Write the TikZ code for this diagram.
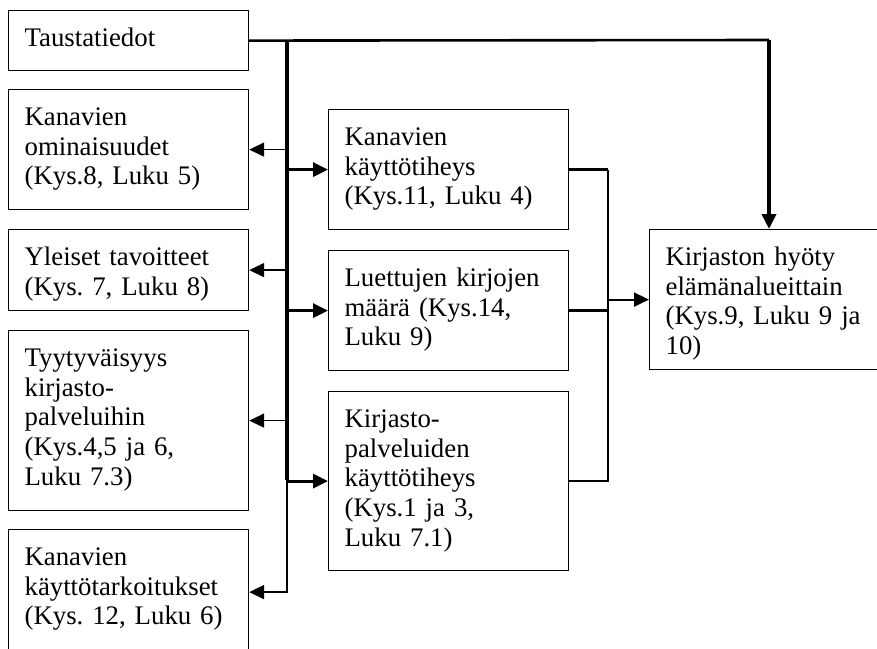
\documentclass[tikz,border=0pt]{standalone}
\usepackage{fontspec}
\setmainfont{Liberation Serif}
\usepackage{tikz}
\usetikzlibrary{arrows.meta}

\tikzset{
  box/.style={draw,line width=0.6pt,anchor=north west,inner xsep=8pt,inner ysep=8.5pt,
    text width=104pt,align=left,text height=9.5pt,text depth=#1,
    font=\fontsize{13.4}{14.8}\selectfont\frenchspacing},
  arr/.style={-{Triangle[length=7.5pt,width=7pt]}}
}

\begin{document}
\begin{tikzpicture}[x=0.5pt,y=-0.5pt]
\useasboundingbox (0,0) rectangle (877,648);
\clip (0,0) rectangle (877,648);

% left column
\node[box=3.5pt] (Tausta) at (8,10) {Taustatiedot};
\node[box=33.5pt] (Ominaisuudet) at (8,89) {Kanavien\\ ominaisuudet\\ (Kys.8, Luku 5)};
\node[box=14pt] (Tavoitteet) at (8,229) {Yleiset tavoitteet\\ (Kys. 7, Luku 8)};
\node[box=63.5pt] (Tyytyvaisyys) at (8,330) {Tyytyväisyys\\ kirjasto-\\ palveluihin\\ (Kys.4,5 ja 6,\\ Luku 7.3)};
\node[box=36pt] (Tarkoitukset) at (8,529) {Kanavien\\ käyttötarkoitukset\\ (Kys. 12, Luku 6)};

% middle column
\node[box=33.5pt] (Kayttotiheys) at (328,109) {Kanavien\\ käyttötiheys\\ (Kys.11, Luku 4)};
\node[box=33.5pt] (Kirjat) at (328,250) {Luettujen kirjojen\\ määrä (Kys.14,\\ Luku 9)};
\node[box=63pt] (Palvelut) at (328,391) {Kirjasto-\\ palveluiden\\ käyttötiheys\\ (Kys.1 ja 3,\\ Luku 7.1)};

% right
\node[box=43.5pt,text width=130pt] (Hyoty) at (649,229) {Kirjaston hyöty\\ elämänalueittain\\ (Kys.9, Luku 9 ja\\ 10)};

\coordinate (Bus) at (287,40);
\coordinate (BusEnd) at (287,480);
\coordinate (Turn) at (769,40);
\coordinate (RightBus) at (608,300);

% main bus
\draw[line width=1.3pt] (Tausta.east) -- (Turn);
\draw[arr,line width=2pt] (Turn) -- (Turn |- Hyoty.north);
\draw[line width=2.2pt] (Bus) -- (BusEnd);
\draw[arr,line width=1pt] (BusEnd) -- (BusEnd |- Tarkoitukset.east) -- (Tarkoitukset.east);

\begin{scope}[line width=0.8pt]
    \draw[arr] (Bus |- Ominaisuudet.east) -- (Ominaisuudet.east);
    \draw[arr] (Bus |- Tavoitteet.east) -- (Tavoitteet.east);
    \draw[arr] (Bus |- Tyytyvaisyys.east) -- (Tyytyvaisyys.east);
\end{scope}

\begin{scope}[line width=1.6pt]
    \draw[arr] (Bus |- Kayttotiheys.west) -- (Kayttotiheys.west);
    \draw[arr] (Bus |- Kirjat.west) -- (Kirjat.west);
    \draw[arr] (Bus |- Palvelut.west) -- (Palvelut.west);
    \draw (Kayttotiheys.east) -- (RightBus |- Kayttotiheys.east);
    \draw (Kirjat.east) -- (RightBus |- Kirjat.east);
\end{scope}

\begin{scope}[line width=1pt]
    \draw (RightBus |- Kayttotiheys.east) -- (RightBus |- Palvelut.east) -- (Palvelut.east);
    \draw[arr] (RightBus |- Hyoty.west) -- (Hyoty.west);
\end{scope}

\end{tikzpicture}
\end{document}
